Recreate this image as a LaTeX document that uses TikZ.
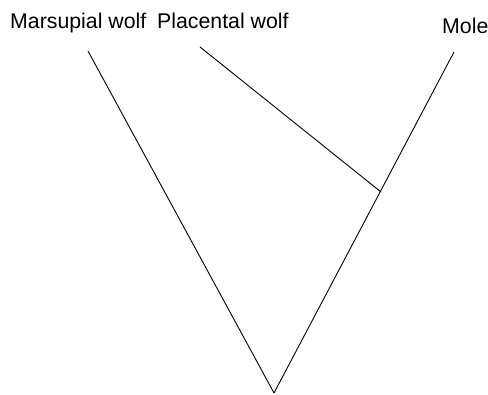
\documentclass[tikz,border=0pt]{standalone}
\usepackage{fontspec}
\setmainfont{Liberation Sans}
\begin{document}
\begin{tikzpicture}[x=1pt,y=1pt,
  lbl/.style={anchor=base west,inner sep=0pt,font=\fontsize{21.3}{24}\selectfont},
  branch/.style={line width=0.9pt,black}]
\useasboundingbox (0,0) rectangle (488,395);
\node[lbl] (tm) at (10,366) {Marsupial wolf};
\node[lbl] (tp) at (157,366) {Placental wolf};
\node[lbl] (tmo) at (442,361) {Mole};
\coordinate (m) at (88,344);
\coordinate (p) at (200,348);
\coordinate (mo) at (454,343);
\coordinate (j) at (381,203);
\coordinate (r) at (274,2);
\draw[branch] (m) -- (r);
\draw[branch] (p) -- (j);
\draw[branch] (mo) -- (r);
\end{tikzpicture}
\end{document}
